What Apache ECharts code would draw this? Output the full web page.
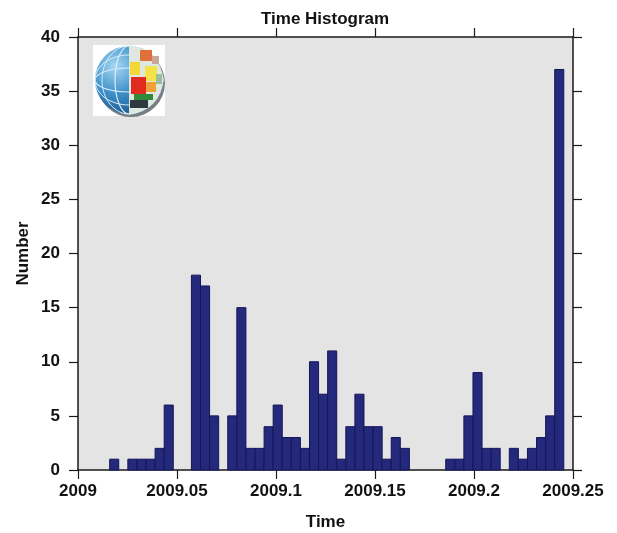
<!DOCTYPE html>
<html>
<head>
<meta charset="utf-8">
<title>Time Histogram</title>
<script src="https://cdn.jsdelivr.net/npm/echarts@6/dist/echarts.min.js"></script>
<style>
  html, body { margin: 0; padding: 0; background: #ffffff; }
  #chart { width: 617px; height: 533px; }
</style>
</head>
<body>
<div id="chart"></div>
<script>
// Histogram bins: first bin edge and bin width (decimal years)
const binStart = 2009.016;
const binWidth = 0.004587;

// Event counts per bin
const counts = [
  1, 0, 1, 1, 1, 2, 6, 0, 0, 18,
  17, 5, 0, 5, 15, 2, 2, 4, 6, 3,
  3, 2, 10, 7, 11, 1, 4, 7, 4, 4,
  1, 3, 2, 0, 0, 0, 0, 1, 1, 5,
  9, 2, 2, 0, 2, 1, 2, 3, 5, 37
];

// Axis ranges and tick spacing
const xRange = [2009, 2009.25];
const xStep = 0.05;
const yRange = [0, 40];
const yStep = 5;

const bins = counts.map((c, i) => [binStart + i * binWidth, binStart + (i + 1) * binWidth, c]);

const FONT = 'Liberation Sans, Arial, sans-serif';
const AXIS_COLOR = '#1a1a1a';

const chart = echarts.init(document.getElementById('chart'), null, { renderer: 'canvas' });

const axisLine = { show: true, onZero: false, lineStyle: { color: AXIS_COLOR, width: 1.5 } };
const axisTick = { show: true, inside: false, length: 9, lineStyle: { color: AXIS_COLOR, width: 1.2 } };
const labelStyle = { color: '#111', fontFamily: FONT, fontWeight: 'bold', fontSize: 17 };

// Small globe emblem in the upper-left corner of the plot
function globe() {
  const cx = 129, cy = 80, r = 34;
  return [
    { type: 'rect', shape: { x: 93, y: 45, width: 72, height: 71 }, style: { fill: '#ffffff' }, z: 10 },
    // shadow under the sphere
    { type: 'circle', shape: { cx: cx + 2, cy: cy + 3, r: r }, style: { fill: '#1d2a33', opacity: 0.6 }, z: 11 },
    {
      type: 'circle', shape: { cx: cx, cy: cy, r: r },
      style: {
        fill: new echarts.graphic.RadialGradient(0.3, 0.3, 0.9, [
          { offset: 0, color: '#a6d8f4' },
          { offset: 0.45, color: '#3d8fc8' },
          { offset: 1, color: '#0f3f73' }
        ])
      }, z: 12
    },
    // meridians and parallels
    { type: 'ellipse', shape: { cx: cx, cy: cy, rx: 14, ry: r }, style: { fill: 'none', stroke: '#d8ecf7', lineWidth: 1.2 }, z: 13 },
    { type: 'ellipse', shape: { cx: cx, cy: cy, rx: 27, ry: r }, style: { fill: 'none', stroke: '#d8ecf7', lineWidth: 1 }, z: 13 },
    { type: 'ellipse', shape: { cx: cx, cy: cy, rx: r, ry: 12 }, style: { fill: 'none', stroke: '#d8ecf7', lineWidth: 1.2 }, z: 13 },
    { type: 'ellipse', shape: { cx: cx, cy: cy, rx: r, ry: 25 }, style: { fill: 'none', stroke: '#d8ecf7', lineWidth: 1 }, z: 13 },
    // right half of the sphere broken into coloured tiles
    { type: 'sector', shape: { cx: cx, cy: cy, r0: 0, r: r, startAngle: -Math.PI / 2, endAngle: Math.PI / 2 }, style: { fill: '#dfe8e0' }, z: 14 },
    { type: 'rect', shape: { x: 140, y: 50, width: 12, height: 11 }, style: { fill: '#e0703a' }, z: 15 },
    { type: 'rect', shape: { x: 152, y: 56, width: 7, height: 8 }, style: { fill: '#c7a79a' }, z: 15 },
    { type: 'rect', shape: { x: 130, y: 62, width: 10, height: 13 }, style: { fill: '#f3d637' }, z: 15 },
    { type: 'rect', shape: { x: 145, y: 66, width: 12, height: 15 }, style: { fill: '#f5e14a' }, z: 15 },
    { type: 'rect', shape: { x: 131, y: 77, width: 15, height: 17 }, style: { fill: '#e22b1f' }, z: 15 },
    { type: 'rect', shape: { x: 146, y: 82, width: 10, height: 10 }, style: { fill: '#f0a23a' }, z: 15 },
    { type: 'rect', shape: { x: 156, y: 74, width: 6, height: 10 }, style: { fill: '#9bbf9a' }, z: 15 },
    { type: 'rect', shape: { x: 134, y: 94, width: 19, height: 6 }, style: { fill: '#2f8a3a' }, z: 15 },
    { type: 'rect', shape: { x: 130, y: 100, width: 18, height: 8 }, style: { fill: '#2c3a40' }, z: 15 }
  ];
}

chart.setOption({
  animation: false,
  backgroundColor: '#ffffff',
  title: {
    text: 'Time Histogram',
    left: 256,
    top: 6,
    textStyle: { color: '#111', fontFamily: FONT, fontWeight: 'bold', fontSize: 17 }
  },
  grid: {
    left: 78, right: 44, top: 37, bottom: 63,
    containLabel: false, outerBoundsMode: 'none',
    show: true, backgroundColor: '#e4e4e4', borderWidth: 0
  },
  xAxis: [
    {
      type: 'value', position: 'bottom', min: xRange[0], max: xRange[1], interval: xStep,
      axisLine, axisTick,
      axisLabel: Object.assign({ margin: 13, formatter: v => String(+v.toFixed(2)) }, labelStyle),
      splitLine: { show: false },
      name: 'Time', nameLocation: 'middle', nameGap: 44, nameMoveOverlap: false,
      nameTextStyle: labelStyle
    },
    {
      type: 'value', position: 'top', min: xRange[0], max: xRange[1], interval: xStep,
      axisLine, axisTick, axisLabel: { show: false }, splitLine: { show: false }
    }
  ],
  yAxis: [
    {
      type: 'value', position: 'left', min: yRange[0], max: yRange[1], interval: yStep,
      axisLine, axisTick,
      axisLabel: Object.assign({ margin: 18 }, labelStyle),
      splitLine: { show: false },
      name: 'Number', nameLocation: 'middle', nameGap: 46, nameMoveOverlap: false,
      nameTextStyle: labelStyle
    },
    {
      type: 'value', position: 'right', min: yRange[0], max: yRange[1], interval: yStep,
      axisLine, axisTick, axisLabel: { show: false }, splitLine: { show: false }
    }
  ],
  series: [{
    type: 'custom',
    data: bins,
    encode: { x: [0, 1], y: 2 },
    renderItem: function (params, api) {
      const v = api.value(2);
      if (!v) return null;
      const p0 = api.coord([api.value(0), v]);
      const p1 = api.coord([api.value(1), 0]);
      return {
        type: 'rect',
        shape: { x: p0[0], y: p0[1], width: p1[0] - p0[0], height: p1[1] - p0[1] },
        style: { fill: '#25297c', stroke: '#14165a', lineWidth: 1 }
      };
    }
  }],
  graphic: globe()
});
</script>
</body>
</html>
